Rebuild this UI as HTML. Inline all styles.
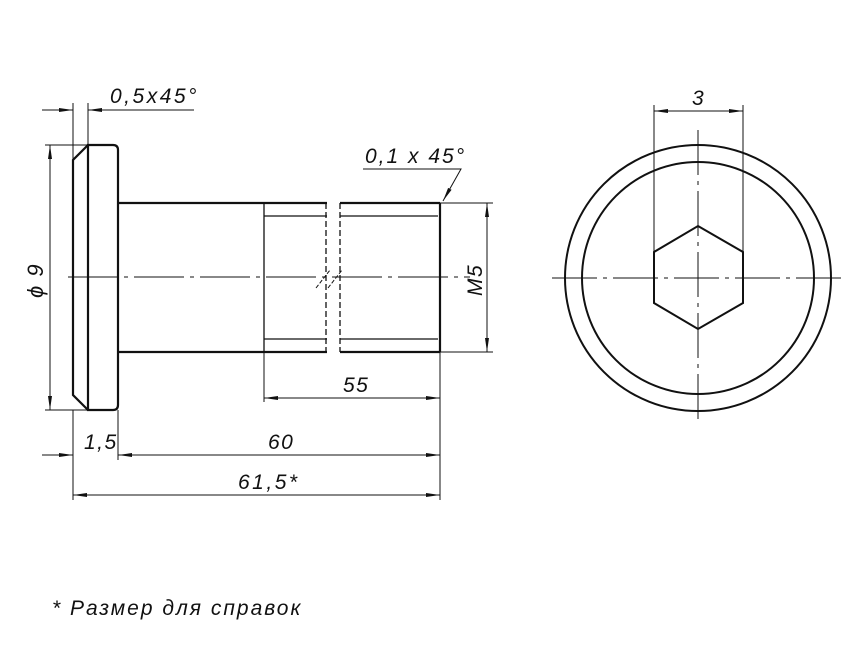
<!DOCTYPE html>
<html><head><meta charset="utf-8"><style>
html,body{margin:0;padding:0;background:#fff}
svg{display:block}
text{font-family:"Liberation Sans","DejaVu Sans",sans-serif;font-style:italic;fill:#111;letter-spacing:1.5px}
</style></head><body>
<svg width="866" height="650" viewBox="0 0 866 650" xmlns="http://www.w3.org/2000/svg">
<defs>
<marker id="a" markerWidth="14" markerHeight="6" refX="14" refY="3" orient="auto-start-reverse" markerUnits="userSpaceOnUse">
<path d="M0,1 L14,3 L0,5 Z" fill="#111"/></marker>
</defs>
<g stroke="#111" fill="none">
<g stroke-width="2.2">
<path d="M88,145 H113 Q118,145 118,150 V405 Q118,410 113,410 H88 Z"/>
<path d="M88,145 L73,160 V395 L88,410"/>
<path d="M118,203 H327 M340,203 H440 M118,352 H327 M340,352 H440"/>
<path d="M440,203 V352"/>
</g>
<g stroke-width="1.3">
<path d="M264,203 V352"/>
<path d="M264,216 H327 M340,216 H438 M264,339 H327 M340,339 H438"/>
<path d="M326,203 V352 M340,203 V352" stroke-dasharray="6,3"/>
<path d="M316,288 L330,270 M328,288 L342,270" stroke-dasharray="4,2" stroke-width="1"/>
</g>
<path d="M68,277 H470" stroke-width="1" stroke-dasharray="50,6,4,6"/>
<g stroke-width="1">
<path d="M73,103 V160 M88,103 V145"/>
<path d="M42,110 H73" marker-end="url(#a)"/>
<path d="M194,110 H88" marker-end="url(#a)"/>
<path d="M45,145 H88 M45,410 H88"/>
<path d="M50,145 V410" marker-start="url(#a)" marker-end="url(#a)"/>
<path d="M440,203 H493 M440,352 H493"/>
<path d="M487,203 V352" marker-start="url(#a)" marker-end="url(#a)"/>
<path d="M264,352 V402 M440,352 V500 M73,410 V500 M118,410 V460"/>
<path d="M264,398 H440" marker-start="url(#a)" marker-end="url(#a)"/>
<path d="M42,455 H73" marker-end="url(#a)"/>
<path d="M118,455 H440" marker-start="url(#a)" marker-end="url(#a)"/>
<path d="M73,495 H440" marker-start="url(#a)" marker-end="url(#a)"/>
<path d="M363,169 H461 L443,201" marker-end="url(#a)"/>
</g>
<g stroke-width="2">
<circle cx="698" cy="278" r="133"/>
<circle cx="698" cy="278" r="116"/>
<path d="M698,226 L743,252 V303 L698,329 L654,303 V252 Z"/>
</g>
<g stroke-width="1">
<path d="M552,278 H846" stroke-dasharray="45,6,4,6"/>
<path d="M698,130 V425" stroke-dasharray="45,6,4,6"/>
<path d="M654,105 V252 M743,105 V252"/>
<path d="M654,111 H743" marker-start="url(#a)" marker-end="url(#a)"/>
</g>
</g>
<text x="110" y="103" font-size="21" style="letter-spacing:2.5px">0,5x45°</text>
<text x="365" y="163" font-size="21" style="letter-spacing:2px">0,1 x 45°</text>
<text x="343" y="392" font-size="21">55</text>
<text x="84" y="449" font-size="21">1,5</text>
<text x="268" y="449" font-size="21">60</text>
<text x="238" y="489" font-size="21" style="letter-spacing:2.5px">61,5*</text>
<text x="692" y="105" font-size="21">3</text>
<text x="52" y="615" font-size="21" style="letter-spacing:2px">* Размер для справок</text>
<text transform="translate(482,296) rotate(-90)" font-size="21">M5</text>
<text transform="translate(43,298) rotate(-90)" font-size="22">ϕ 9</text>
</svg>
</body></html>
